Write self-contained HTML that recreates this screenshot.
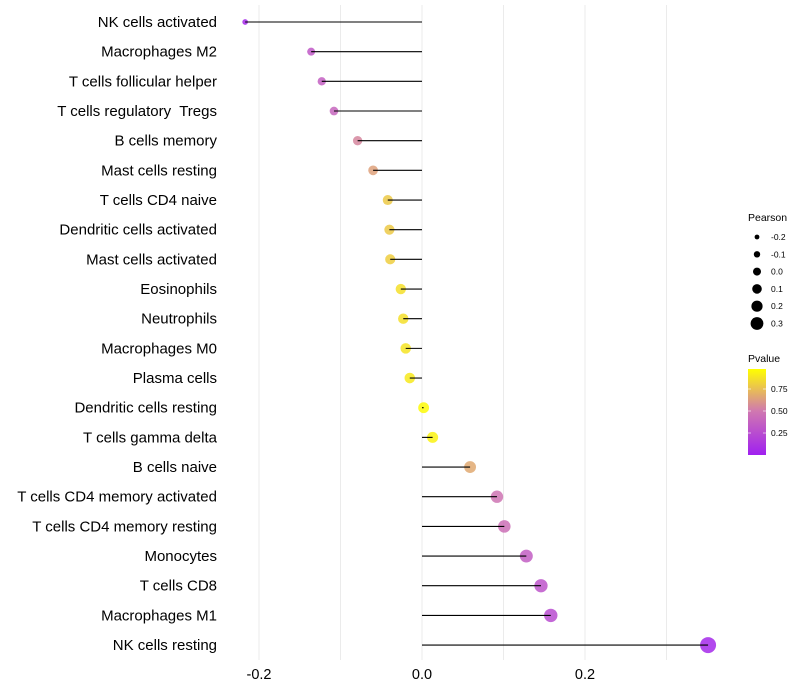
<!DOCTYPE html>
<html><head><meta charset="utf-8"><style>
body{margin:0;background:#fff;}
svg{display:block;font-family:"Liberation Sans",sans-serif;}
text{white-space:pre;}
</style></head><body>
<svg id="chart" width="800" height="700" viewBox="0 0 800 700">
<g id="grid"></g><g id="marks"></g><g id="ylabels"></g><g id="xlabels"></g><g id="legend"></g>
</svg>
<script>
const categories=["NK cells activated","Macrophages M2","T cells follicular helper","T cells regulatory  Tregs","B cells memory","Mast cells resting","T cells CD4 naive","Dendritic cells activated","Mast cells activated","Eosinophils","Neutrophils","Macrophages M0","Plasma cells","Dendritic cells resting","T cells gamma delta","B cells naive","T cells CD4 memory activated","T cells CD4 memory resting","Monocytes","T cells CD8","Macrophages M1","NK cells resting"];
const pearson=[-0.217,-0.136,-0.123,-0.108,-0.079,-0.060,-0.042,-0.040,-0.039,-0.026,-0.023,-0.020,-0.015,0.002,0.013,0.059,0.092,0.101,0.128,0.146,0.158,0.351];
const pvalue=[0.05,0.32,0.36,0.40,0.55,0.65,0.80,0.80,0.82,0.88,0.88,0.90,0.92,0.98,0.95,0.68,0.48,0.45,0.35,0.30,0.25,0.05];
const xTicks=[-0.2,0.0,0.2];
const xTickLabels=["-0.2","0.0","0.2"];
const minorTicks=[-0.1,0.1,0.3];
const sizeLegendVals=[-0.2,-0.1,0.0,0.1,0.2,0.3];
const sizeLegendLabels=["-0.2","-0.1","0.0","0.1","0.2","0.3"];
const pLegendVals=[0.25,0.5,0.75];
const pLegendLabels=["0.25","0.50","0.75"];

const NS="http://www.w3.org/2000/svg";
const x=v=>422+v*815;
const y=i=>22+i*29.67;
const r=v=>Math.max(1.8,Math.sqrt(Math.max(0,29.4+98.6*v)));
const rl=v=>Math.max(1.5,4.3+8*v);
function lerp(a,b,t){return a.map((c,k)=>Math.round(c+(b[k]-c)*t));}
function col(p){const s=[[160,32,240],[208,120,176],[255,255,0]];
 const c=p<0.5?lerp(s[0],s[1],p/0.5):lerp(s[1],s[2],(p-0.5)/0.5);return `rgb(${c})`;}
function mk(tag,at,parent){const e=document.createElementNS(NS,tag);for(const k in at)e.setAttribute(k,at[k]);parent.appendChild(e);return e;}
const G=document.getElementById('grid'),M=document.getElementById('marks'),YL=document.getElementById('ylabels'),XL=document.getElementById('xlabels'),L=document.getElementById('legend');
[...xTicks,...minorTicks].forEach(t=>{
 const g=mk('line',{x1:x(t),x2:x(t),y1:5,y2:660,stroke:'#ebebeb','stroke-width':1},G);
 
 
});
xTicks.forEach((t,i)=>{
 const tx=mk('text',{x:x(t),y:679,'text-anchor':'middle','font-size':14.5,fill:'#000'},XL);tx.textContent=xTickLabels[i];
 
 
});
categories.forEach((c,i)=>{
 const t=mk('text',{x:217,y:y(i)+5,'text-anchor':'end','font-size':15,fill:'#000'},YL);t.textContent=c;
 
 
 const d=mk('circle',{cx:x(pearson[i]),cy:y(i),r:r(pearson[i]),fill:col(pvalue[i]),'fill-opacity':0.85},M);
 
 
 const l=mk('line',{x1:x(0),x2:x(pearson[i]),y1:y(i),y2:y(i),stroke:'#000','stroke-width':1.1},M);
 
 
});
let t=mk('text',{x:748,y:221,'font-size':10.5,fill:'#000'},L);t.textContent="Pearson";


sizeLegendVals.forEach((v,i)=>{
 const cy=237+i*17.3;
 const c=mk('circle',{cx:757,cy:cy,r:rl(v)-0.3,fill:'#000'},L);
 
 
 const tt=mk('text',{x:771,y:cy+3,'font-size':8.5,fill:'#000'},L);tt.textContent=sizeLegendLabels[i];
 
 
});
t=mk('text',{x:748,y:362,'font-size':10.5,fill:'#000'},L);t.textContent="Pvalue";


const defs=mk('defs',{},L);
const gr=mk('linearGradient',{id:'pg',x1:0,y1:1,x2:0,y2:0},defs);
mk('stop',{offset:'0%','stop-color':col(0)},gr);mk('stop',{offset:'51%','stop-color':col(0.5)},gr);mk('stop',{offset:'100%','stop-color':col(1)},gr);
const bar=mk('rect',{x:748,y:369,width:18,height:86,fill:'url(#pg)'},L);


pLegendVals.forEach((p,i)=>{
 const cy=455-p*88;
 mk('line',{x1:748,x2:751,y1:cy,y2:cy,stroke:'#fff','stroke-opacity':0.6},L);
 mk('line',{x1:763,x2:766,y1:cy,y2:cy,stroke:'#fff','stroke-opacity':0.6},L);
 const tt=mk('text',{x:771,y:cy+3,'font-size':8.5,fill:'#000'},L);tt.textContent=pLegendLabels[i];
 
 
});
</script>
</body></html>
